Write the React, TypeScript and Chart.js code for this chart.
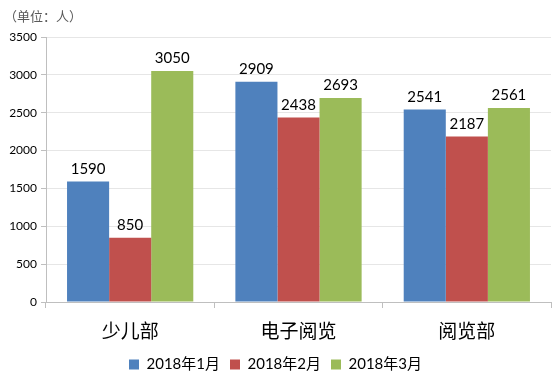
import React, { useEffect, useRef } from "react";
import { Chart, registerables } from "chart.js";

Chart.register(...registerables);

const categories = ["少儿部", "电子阅览", "阅览部"];
const seriesNames = ["2018年1月", "2018年2月", "2018年3月"];
const jan = [1590, 2909, 2541];
const feb = [850, 2438, 2187];
const mar = [3050, 2693, 2561];
const colors = ["#4F81BD", "#C0504D", "#9BBB59"];
const unitLabel = "（单位：人）";

const NUM_FONT = "Lato, 'Noto Sans', 'Noto Sans CJK SC', sans-serif";

const valueLabels = {
  id: "valueLabels",
  afterDatasetsDraw(chart: any) {
    const ctx = chart.ctx;
    ctx.save();
    ctx.font = `15px ${NUM_FONT}`;
    ctx.fillStyle = "#000000";
    ctx.textAlign = "center";
    ctx.textBaseline = "bottom";
    chart.data.datasets.forEach((ds: any, i: number) => {
      const meta = chart.getDatasetMeta(i);
      meta.data.forEach((bar: any, j: number) => {
        ctx.fillText(String(ds.data[j]), bar.x, bar.y - 5);
      });
    });
    ctx.restore();
  },
};

export default function App() {
  const ref = useRef<HTMLCanvasElement | null>(null);
  useEffect(() => {
    if (!ref.current) return;
    const data = [jan, feb, mar];
    const chart = new Chart(ref.current, {
      type: "bar",
      data: {
        labels: categories,
        datasets: seriesNames.map((n, i) => ({
          label: n,
          data: data[i],
          backgroundColor: colors[i],
          borderWidth: 0,
          categoryPercentage: 0.75,
          barPercentage: 1,
        })),
      },
      options: {
        animation: false,
        responsive: false,
        maintainAspectRatio: false,
        layout: { padding: { top: 37, right: 9, left: 0, bottom: 0 } },
        plugins: {
          tooltip: { enabled: false },
          legend: {
            position: "bottom",
            labels: {
              boxWidth: 10,
              boxHeight: 10,
              padding: 10,
              color: "#000",
              font: { size: 15, family: NUM_FONT },
            },
          },
        },
        scales: {
          x: {
            grid: {
              offset: true,
              drawOnChartArea: false,
              tickLength: 6,
              color: "#BFBFBF",
            },
            border: { color: "#BFBFBF" },
            ticks: {
              color: "#000",
              font: { size: 19, family: "'Noto Sans CJK SC', sans-serif" },
              padding: 11,
            },
            afterFit(scale: any) {
              scale.height = 45;
            },
          },
          y: {
            min: 0,
            max: 3500,
            ticks: {
              stepSize: 500,
              color: "#000",
              font: { size: 12, family: NUM_FONT },
              padding: 4,
              callback: (v: any) => String(v),
            },
            grid: { color: "#E6E6E6", tickLength: 5, tickColor: "#BFBFBF" },
            border: { color: "#BFBFBF" },
            afterFit(scale: any) {
              scale.width = 46;
            },
          },
        },
      },
      plugins: [valueLabels],
    } as any);
    return () => chart.destroy();
  }, []);
  return (
    <div style={{ position: "fixed", left: 0, top: 0, width: 560, height: 382, background: "#fff" }}>
      <canvas ref={ref} width={560} height={382} style={{ display: "block" }} />
      <span
        style={{
          position: "absolute",
          left: 4,
          top: 6,
          fontSize: 13,
          color: "#595959",
          fontFamily: "'Noto Sans CJK SC', sans-serif",
        }}
      >
        {unitLabel}
      </span>
    </div>
  );
}
